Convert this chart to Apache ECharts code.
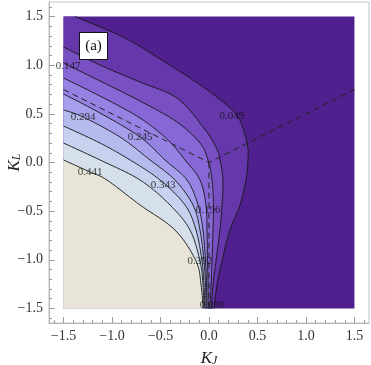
<!DOCTYPE html>
<html>
<head>
<meta charset="utf-8">
<script src="https://cdn.jsdelivr.net/npm/echarts@6/dist/echarts.min.js"></script>
<style>
  html, body { margin: 0; padding: 0; background: #fff; }
  #main { width: 371px; height: 365px; }
</style>
</head>
<body>
<div id="main"></div>
<script>
// contour levels and the lines, [K_J, K_L]
var levels = ['0.049', '0.098', '0.147', '0.196', '0.245', '0.294', '0.343', '0.392', '0.441']

var c049 = [[-1.381, 1.5], [-0.866, 1.280], [-0.505, 1.064], [-0.196, 0.868], [0.093, 0.663], [0.299, 0.468], [0.392, 0.200], [0.402, 0.026], [0.381, -0.180], [0.320, -0.437], [0.216, -0.694], [0.134, -1.013], [0.082, -1.259], [0.052, -1.5]]
var c098 = [[-1.5, 1.187], [-1.124, 1.002], [-0.711, 0.827], [-0.330, 0.663], [-0.062, 0.365], [0.072, 0.159], [0.113, 0.026], [0.144, -0.180], [0.134, -0.437], [0.113, -0.694], [0.072, -1.013], [0.041, -1.259], [0.026, -1.5]]
var c147 = [[-1.5, 1.023], [-1.124, 0.838], [-0.711, 0.632], [-0.330, 0.416], [-0.093, 0.200], [-0.010, 0.026], [0.031, -0.180], [0.046, -0.437], [0.041, -0.694], [0.031, -1.013], [0.021, -1.259], [0.010, -1.5]]
var c196 = [[-1.5, 0.868], [-1.124, 0.683], [-0.711, 0.457], [-0.423, 0.231], [-0.247, 0.026], [-0.093, -0.180], [-0.031, -0.437], [-0.021, -0.694], [-0.015, -1.013], [-0.010, -1.259], [-0.008, -1.5]]
var c245 = [[-1.5, 0.704], [-1.124, 0.509], [-0.711, 0.262], [-0.454, 0.026], [-0.227, -0.180], [-0.113, -0.437], [-0.062, -0.694], [-0.036, -1.013], [-0.026, -1.259], [-0.021, -1.5]]
var c294 = [[-1.5, 0.540], [-1.299, 0.468], [-0.918, 0.262], [-0.608, 0.026], [-0.351, -0.180], [-0.165, -0.437], [-0.093, -0.694], [-0.052, -1.013], [-0.036, -1.259], [-0.031, -1.5]]
var c343 = [[-1.5, 0.375], [-1.124, 0.200], [-0.814, 0.026], [-0.505, -0.180], [-0.247, -0.437], [-0.134, -0.694], [-0.072, -1.013], [-0.052, -1.259], [-0.041, -1.5]]
var c392 = [[-1.5, 0.200], [-1.124, 0.026], [-0.711, -0.180], [-0.402, -0.437], [-0.196, -0.694], [-0.093, -1.013], [-0.062, -1.259], [-0.052, -1.5]]
var c441 = [[-1.5, 0.026], [-1.227, -0.098], [-1.052, -0.180], [-0.711, -0.437], [-0.351, -0.694], [-0.134, -1.013], [-0.082, -1.259], [-0.062, -1.5]]
var curves = [c049, c098, c147, c196, c245, c294, c343, c392, c441]

// where each level's label sits
var labelPos = [[0.237, 0.478], [0.031, -1.465], [-1.454, 0.992], [-0.010, -0.488], [-0.711, 0.262], [-1.299, 0.468], [-0.474, -0.231], [-0.093, -1.013], [-1.227, -0.098]]

// dashed boundaries
var dashA = [[-1.5, 0.75], [0, 0], [1.5, 0.75]]
var dashB = [[0, 0], [0, -1.5]]

var kMin = -1.5, kMax = 1.5
var majorTicks = [-1.5, -1.0, -0.5, 0, 0.5, 1.0, 1.5]
var minorTicks = [-1.6, -1.4, -1.3, -1.2, -1.1, -0.9, -0.8, -0.7, -0.6, -0.4, -0.3, -0.2, -0.1,
  0.1, 0.2, 0.3, 0.4, 0.6, 0.7, 0.8, 0.9, 1.1, 1.2, 1.3, 1.4, 1.6]

var bandColors = ['#50208f', '#6637aa', '#7850c2', '#8767d6', '#9682e3', '#a6a0ec', '#b6bbee', '#c6d2ee', '#d6e0ea', '#e8e5d8']

var serif = '"Liberation Serif", "DejaVu Serif", serif'

// catmull-rom through the pixel points so lines and fills share one smooth outline
function smoothPx(p) {
  var out = []
  var n = p.length
  for (var i = 0; i < n - 1; i++) {
    var p0 = p[Math.max(i - 1, 0)], p1 = p[i], p2 = p[i + 1], p3 = p[Math.min(i + 2, n - 1)]
    for (var k = 0; k < 10; k++) {
      var t = k / 10, t2 = t * t, t3 = t2 * t
      out.push([0, 1].map(function (j) {
        return 0.5 * (2 * p1[j] + (-p0[j] + p2[j]) * t + (2 * p0[j] - 5 * p1[j] + 4 * p2[j] - p3[j]) * t2 + (-p0[j] + 3 * p1[j] - 3 * p2[j] + p3[j]) * t3)
      }))
    }
  }
  out.push(p[n - 1])
  return out
}

function fillSeries(pts, color, z) {
  return {
    type: 'custom', silent: true, z: z, data: [0],
    renderItem: function (params, api) {
      var p = smoothPx(pts.map(function (d) { return api.coord(d) }))
      p.push(api.coord([kMin, kMin]))
      if (pts[0][0] > kMin) p.push(api.coord([kMin, kMax]))  // starts on the top edge
      return { type: 'polygon', shape: { points: p }, style: { fill: color } }
    }
  }
}

function lineSeries(pts, z) {
  return {
    type: 'custom', silent: true, z: z, data: [0],
    renderItem: function (params, api) {
      var p = smoothPx(pts.map(function (d) { return api.coord(d) }))
      return { type: 'polyline', shape: { points: p }, style: { fill: null, stroke: '#151515', lineWidth: 0.9 } }
    }
  }
}

var series = []
// base region
series.push({
  type: 'custom', silent: true, z: 1, data: [0],
  renderItem: function (params, api) {
    var p = [[kMin, kMin], [kMax, kMin], [kMax, kMax], [kMin, kMax]].map(function (d) { return api.coord(d) })
    return { type: 'polygon', shape: { points: p }, style: { fill: bandColors[0] } }
  }
})
curves.forEach(function (c, i) { series.push(fillSeries(c, bandColors[i + 1], 2 + i)) })
curves.forEach(function (c) { series.push(lineSeries(c, 20)) })
series.push({ type: 'line', data: dashA, symbol: 'none', silent: true, z: 21, lineStyle: { color: '#222', width: 1, type: [6, 4] } })
series.push({ type: 'line', data: dashB, symbol: 'none', silent: true, z: 21, lineStyle: { color: '#222', width: 1, type: [6, 4] } })
series.push({
  type: 'scatter', symbolSize: 0, silent: true, z: 30,
  data: labelPos.map(function (p, i) { return [p[0], p[1], levels[i]] }),
  label: {
    show: true, position: 'inside', color: '#111', fontFamily: serif, fontSize: 11,
    formatter: function (p) { return p.value[2] }
  }
})

function fmt(v) {
  var s = Math.abs(v).toFixed(1)
  return v < 0 ? '\u2212' + s : s
}

var nameRich = {
  i: { fontFamily: serif, fontStyle: 'italic', fontSize: 17, lineHeight: 22, verticalAlign: 'bottom', color: '#222' },
  s: { fontFamily: serif, fontStyle: 'italic', fontSize: 12, lineHeight: 12, verticalAlign: 'bottom', color: '#222' }
}

function mainAxis(name, gap, pos) {
  return {
    type: 'value', min: -1.65, max: 1.65, position: pos,
    name: name, nameLocation: 'middle', nameGap: gap, nameMoveOverlap: false,
    nameTextStyle: { rich: nameRich },
    axisLine: { show: true, onZero: false, lineStyle: { color: '#b5b5b5' } },
    axisTick: { show: true, inside: true, length: 6, customValues: majorTicks, lineStyle: { color: '#999' } },
    axisLabel: { customValues: majorTicks, formatter: fmt, fontFamily: serif, fontSize: 14, color: '#333', margin: 6 },
    splitLine: { show: false }
  }
}
function minorAxis(pos) {
  return {
    type: 'value', min: -1.65, max: 1.65, position: pos,
    axisLine: { show: false, onZero: false },
    axisTick: { show: true, inside: true, length: 3, customValues: minorTicks, lineStyle: { color: '#999' } },
    axisLabel: { show: false },
    splitLine: { show: false }
  }
}

var chart = echarts.init(document.getElementById('main'))
chart.setOption({
  animation: false,
  grid: { left: 49, right: 2, top: 2, bottom: 42, containLabel: false, outerBoundsMode: 'none', show: true, borderColor: '#c4c4c4', borderWidth: 1 },
  xAxis: [mainAxis('{i|K}{s|J}', 22, 'bottom'), minorAxis('bottom')],
  yAxis: [mainAxis('{i|K}{s|L}', 26, 'left'), minorAxis('left')],
  series: series,
  graphic: [{
    type: 'group', left: 79, top: 32, z: 100,
    children: [
      { type: 'rect', z: 100, shape: { x: 0, y: 0, width: 28, height: 27 }, style: { fill: '#fff', stroke: '#111', lineWidth: 1 } },
      { type: 'text', z: 101, x: 14, y: 14, style: { text: '(a)', font: '15px "Liberation Serif", serif', fill: '#111', textAlign: 'center', textVerticalAlign: 'middle' } }
    ]
  }]
})
</script>
</body>
</html>
